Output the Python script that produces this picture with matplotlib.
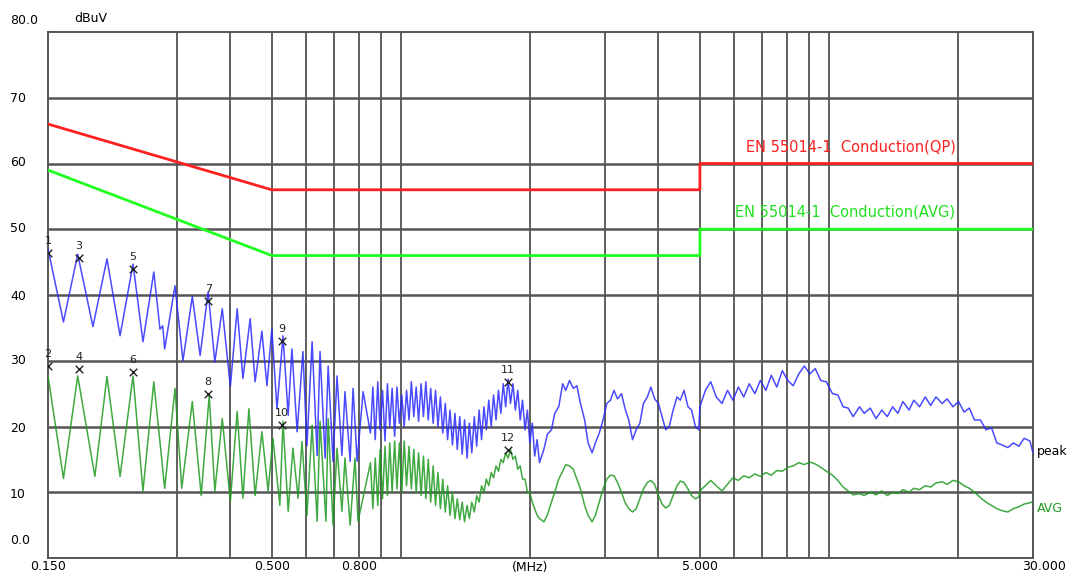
import matplotlib
matplotlib.use("Agg")
import matplotlib.pyplot as plt

# ---- data (MHz, dBuV) ----
grid_freqs = [0.3, 0.4, 0.5, 0.6, 0.7, 0.8, 0.9, 1, 2, 3, 4, 5, 6, 7, 8, 9, 10, 20]
y_ticks = [10, 20, 30, 40, 50, 60, 70]

qp_limit_freq = [0.15, 0.5, 5.0, 5.0, 30.0]
qp_limit_db = [66, 56, 56, 60, 60]
avg_limit_freq = [0.15, 0.5, 5.0, 5.0, 30.0]
avg_limit_db = [59, 46, 46, 50, 50]

marker_freq = [0.150, 0.150, 0.177, 0.177, 0.237, 0.237, 0.355, 0.355, 0.528, 0.528, 1.78, 1.78]
marker_level = [46.4, 29.2, 45.6, 28.8, 43.9, 28.3, 39.1, 25.0, 33.0, 20.3, 26.8, 16.4]

# peak trace, low band (extrema of the ripple)
peak_freq_low = [0.150, 0.163, 0.176, 0.191, 0.206, 0.221, 0.237, 0.250, 0.265, 0.274,
                 0.278, 0.281, 0.297, 0.310, 0.326, 0.340, 0.355, 0.368, 0.383, 0.400,
                 0.415, 0.428, 0.445, 0.457, 0.474, 0.487, 0.500, 0.514, 0.531, 0.546,
                 0.557, 0.573, 0.591, 0.604, 0.621, 0.638, 0.648, 0.666, 0.677, 0.695,
                 0.710, 0.729, 0.741, 0.762, 0.774, 0.791, 0.817]
peak_db_low = [47.0, 35.9, 46.2, 35.2, 45.5, 33.8, 44.7, 32.9, 43.5, 34.8,
               35.3, 31.8, 41.4, 30.0, 39.8, 30.8, 40.5, 29.8, 37.9, 26.1,
               37.9, 27.3, 36.4, 26.8, 34.5, 26.2, 34.8, 22.7, 33.8, 21.7,
               31.8, 19.2, 31.4, 17.1, 32.9, 15.6, 31.4, 15.2, 29.2, 14.7,
               27.7, 15.6, 25.3, 14.7, 25.8, 14.7, 25.3]

avg_freq_low = [0.150, 0.163, 0.176, 0.193, 0.206, 0.221, 0.237, 0.250, 0.265, 0.281,
                0.297, 0.308, 0.326, 0.342, 0.357, 0.368, 0.383, 0.400, 0.415, 0.428,
                0.442, 0.457, 0.474, 0.490, 0.503, 0.522, 0.531, 0.546, 0.560, 0.576,
                0.588, 0.604, 0.621, 0.638, 0.648, 0.669, 0.677, 0.695, 0.710, 0.729,
                0.741, 0.762, 0.782, 0.795]
avg_db_low = [27.7, 12.1, 27.7, 12.4, 27.6, 12.4, 27.7, 10.2, 26.8, 10.6,
              25.8, 10.6, 23.8, 9.5, 24.7, 10.2, 21.2, 8.6, 22.3, 9.1,
              22.7, 9.5, 19.2, 10.2, 18.2, 8.0, 20.8, 7.1, 16.7, 9.1,
              17.7, 6.5, 20.2, 5.6, 20.8, 5.6, 21.2, 5.0, 16.7, 7.1,
              15.2, 5.0, 15.2, 5.6]

# dense band 0.85 - 2.1 MHz
dense_freq = [0.850, 0.861, 0.872, 0.884, 0.895, 0.907, 0.919, 0.931, 0.943, 0.955,
              0.968, 0.980, 0.993, 1.006, 1.019, 1.032, 1.046, 1.059, 1.073, 1.087,
              1.101, 1.116, 1.130, 1.145, 1.160, 1.175, 1.191, 1.206, 1.222, 1.238,
              1.254, 1.271, 1.287, 1.304, 1.321, 1.339, 1.356, 1.374, 1.392, 1.410,
              1.429, 1.447, 1.466, 1.486, 1.505, 1.525, 1.545, 1.565, 1.585, 1.606,
              1.627, 1.648, 1.670, 1.692, 1.714, 1.736, 1.759, 1.782, 1.805, 1.829,
              1.853, 1.877, 1.902, 1.926, 1.952, 1.977, 2.003, 2.029, 2.056, 2.083,
              2.110]
peak_db_dense = [19.0, 26.0, 18.0, 26.8, 19.5, 25.5, 17.8, 26.5, 20.0, 25.8,
                 18.5, 26.0, 20.5, 24.8, 20.0, 25.5, 21.0, 26.8, 21.5, 26.0,
                 20.8, 26.5, 21.5, 26.8, 21.0, 25.8, 20.5, 25.5, 20.0, 24.5,
                 19.0, 23.5, 18.0, 22.5, 17.2, 22.0, 16.5, 21.5, 15.8, 21.0,
                 15.2, 20.5, 16.0, 21.5, 17.0, 22.5, 18.0, 23.0, 19.5, 24.0,
                 20.0, 24.8, 21.0, 25.5, 22.0, 26.5, 23.0, 27.2, 23.5, 26.5,
                 22.5, 25.5, 21.0, 24.0, 19.5, 22.5, 17.5, 20.5, 15.5, 18.0,
                 14.5]
avg_db_dense = [14.5, 7.5, 15.2, 8.0, 16.5, 9.0, 17.0, 9.5, 17.5, 10.0,
                17.8, 10.5, 17.5, 10.0, 17.8, 11.0, 17.0, 10.5, 16.5, 10.0,
                16.0, 9.5, 15.5, 9.0, 15.0, 8.5, 14.0, 8.0, 13.0, 7.5,
                12.0, 7.0, 11.0, 6.5, 10.0, 6.0, 9.0, 5.8, 8.5, 5.5,
                8.0, 6.0, 8.5, 7.0, 9.5, 8.5, 11.0, 10.0, 12.0, 11.0,
                13.0, 12.2, 14.0, 13.2, 15.0, 14.5, 16.0, 15.2, 16.5, 15.0,
                15.5, 13.5, 14.0, 12.0, 12.0, 10.0, 10.0, 8.5, 7.5, 6.5,
                6.0]

# 2.1 - 5 MHz
mid_freq = [2.16, 2.20, 2.25, 2.29, 2.34, 2.39, 2.43, 2.48, 2.53, 2.58,
            2.63, 2.69, 2.74, 2.80, 2.85, 2.91, 2.97, 3.03, 3.09, 3.15,
            3.21, 3.28, 3.34, 3.41, 3.48, 3.55, 3.62, 3.69, 3.77, 3.84,
            3.92, 4.00, 4.08, 4.16, 4.24, 4.33, 4.42, 4.50, 4.59, 4.69,
            4.78, 4.88, 4.97]
peak_db_mid = [16.5, 18.8, 19.5, 22.0, 23.0, 26.5, 25.5, 27.0, 25.8, 26.2,
               23.5, 21.0, 17.5, 16.0, 17.5, 19.0, 21.0, 23.5, 24.0, 25.5,
               24.2, 25.0, 22.8, 21.0, 18.0, 19.5, 20.5, 23.5, 24.5, 26.0,
               24.2, 23.5, 21.5, 19.5, 20.0, 22.5, 24.5, 24.0, 25.5, 23.0,
               22.5, 20.0, 19.5]
avg_db_mid = [5.5, 6.5, 8.5, 10.0, 12.0, 13.2, 14.2, 14.0, 13.5, 12.0,
              10.5, 8.0, 6.5, 5.5, 6.5, 8.5, 10.5, 12.0, 12.6, 12.5,
              11.5, 10.0, 8.5, 7.5, 7.0, 7.5, 9.0, 10.5, 11.5, 11.8,
              11.2, 9.5, 8.2, 7.6, 8.0, 9.5, 11.0, 11.7, 11.5, 10.5,
              9.5, 9.0, 9.3]

# 5 - 30 MHz
high_freq = [5.00, 5.15, 5.30, 5.46, 5.63, 5.80, 5.97, 6.15, 6.33, 6.52,
             6.72, 6.92, 7.13, 7.34, 7.56, 7.79, 8.02, 8.26, 8.51, 8.77,
             9.03, 9.30, 9.58, 9.87, 10.2, 10.5, 10.8, 11.1, 11.4, 11.8,
             12.1, 12.5, 12.9, 13.3, 13.7, 14.1, 14.5, 14.9, 15.4, 15.8,
             16.3, 16.8, 17.3, 17.8, 18.4, 18.9, 19.5, 20.1, 20.7, 21.3,
             21.9, 22.6, 23.3, 24.0, 24.7, 25.4, 26.2, 27.0, 27.8, 28.6,
             29.5, 30.0]
peak_db_high = [23.0, 25.5, 26.8, 24.5, 23.5, 25.5, 24.0, 26.0, 24.5, 26.5,
                25.0, 27.0, 25.5, 27.8, 26.0, 28.5, 27.0, 26.2, 28.0, 29.2,
                28.0, 28.8, 27.0, 26.8, 25.0, 24.8, 23.0, 22.8, 21.5, 23.0,
                22.0, 22.8, 21.2, 22.5, 21.5, 23.0, 22.0, 23.8, 22.5, 24.0,
                23.0, 24.5, 23.2, 24.5, 23.5, 24.2, 23.0, 23.8, 22.2, 22.8,
                21.0, 21.0, 19.5, 19.8, 17.5, 17.2, 16.8, 17.5, 17.0, 18.2,
                17.8, 16.0]
avg_db_high = [10.2, 11.0, 11.8, 11.0, 10.2, 11.2, 12.2, 11.8, 12.5, 12.2,
               12.8, 12.4, 13.0, 12.6, 13.3, 13.2, 13.8, 14.0, 14.5, 14.2,
               14.6, 14.3, 13.8, 13.2, 12.6, 11.8, 10.8, 10.2, 9.6, 9.8,
               9.5, 10.0, 9.6, 10.2, 9.5, 10.0, 9.8, 10.4, 10.0, 10.6,
               10.4, 11.0, 10.8, 11.4, 11.6, 11.2, 11.8, 11.6, 11.0, 10.6,
               10.0, 9.2, 8.5, 8.0, 7.5, 7.2, 7.0, 7.5, 7.8, 8.2,
               8.4, 8.6]

peak_freq = peak_freq_low + dense_freq + mid_freq + high_freq
peak_db = peak_db_low + peak_db_dense + peak_db_mid + peak_db_high
avg_freq = avg_freq_low + dense_freq + mid_freq + high_freq
avg_db = avg_db_low + avg_db_dense + avg_db_mid + avg_db_high

# ---- figure ----
plt.rcParams['font.family'] = ['Liberation Sans Narrow', 'DejaVu Sans']
fig = plt.figure(figsize=(10.73, 5.76), dpi=100)
ax = fig.add_axes([48 / 1073, 1 - 558 / 576, 985 / 1073, 526 / 576])
ax.set_xscale('log')
ax.set_xlim(0.15, 30)
ax.set_ylim(0, 80)
ax.set_xticks([])
ax.set_yticks([])
ax.minorticks_off()
for s in ax.spines.values():
    s.set_color('#555555')
    s.set_linewidth(1.4)

for f in grid_freqs:
    ax.axvline(f, color='#444444', lw=1.2, zorder=1)
for v in y_ticks:
    ax.axhline(v, color='#555555', lw=1.8, zorder=1)

ax.plot(qp_limit_freq, qp_limit_db, color='#ff2020', lw=2, zorder=3)
ax.plot(avg_limit_freq, avg_limit_db, color='#20ff20', lw=2, zorder=3)

ax.plot(peak_freq, peak_db, color='#2a2aff', lw=1.1, alpha=0.85, zorder=4)
ax.plot(avg_freq, avg_db, color='#1f9a1f', lw=1.1, alpha=0.85, zorder=4)

ax.scatter(marker_freq, marker_level, marker='x', s=30, color='#222222', lw=1, zorder=5)
for i, (f, v) in enumerate(zip(marker_freq, marker_level)):
    ax.annotate(str(i + 1), (f, v), xytext=(0, 5), textcoords='offset points',
                ha='center', va='bottom', fontsize=8, color='#222222', zorder=6)

ax.text(0.709, 0.782, 'EN 55014-1  Conduction(QP)', transform=ax.transAxes,
        color='#ff2020', fontsize=10.5, va='center', ha='left')
ax.text(0.697, 0.657, 'EN 55014-1  Conduction(AVG)', transform=ax.transAxes,
        color='#20e020', fontsize=10.5, va='center', ha='left')

# axis labels outside the frame
fs = 9
y_label_pos = {'80.0': 20, '70': 98, '60': 163, '50': 229, '40': 296,
               '30': 361, '20': 428, '10': 494, '0.0': 541}
for lab, ypix in y_label_pos.items():
    fig.text(10 / 1073, 1 - ypix / 576, lab, fontsize=fs, ha='left', va='center')
fig.text(74 / 1073, 1 - 18 / 576, 'dBuV', fontsize=fs, ha='left', va='center')

x_label_pos = {'0.150': 48, '0.500': 272, '0.800': 359, '(MHz)': 530,
               '5.000': 700, '30.000': 1044}
for lab, xpix in x_label_pos.items():
    fig.text(xpix / 1073, 1 - 567 / 576, lab, fontsize=fs, ha='center', va='center')

fig.text(1037 / 1073, 1 - 452 / 576, 'peak', fontsize=fs, ha='left', va='center')
fig.text(1037 / 1073, 1 - 508 / 576, 'AVG', fontsize=fs, ha='left', va='center',
         color='#1f9a1f')

fig.savefig('out.png', dpi=100)
